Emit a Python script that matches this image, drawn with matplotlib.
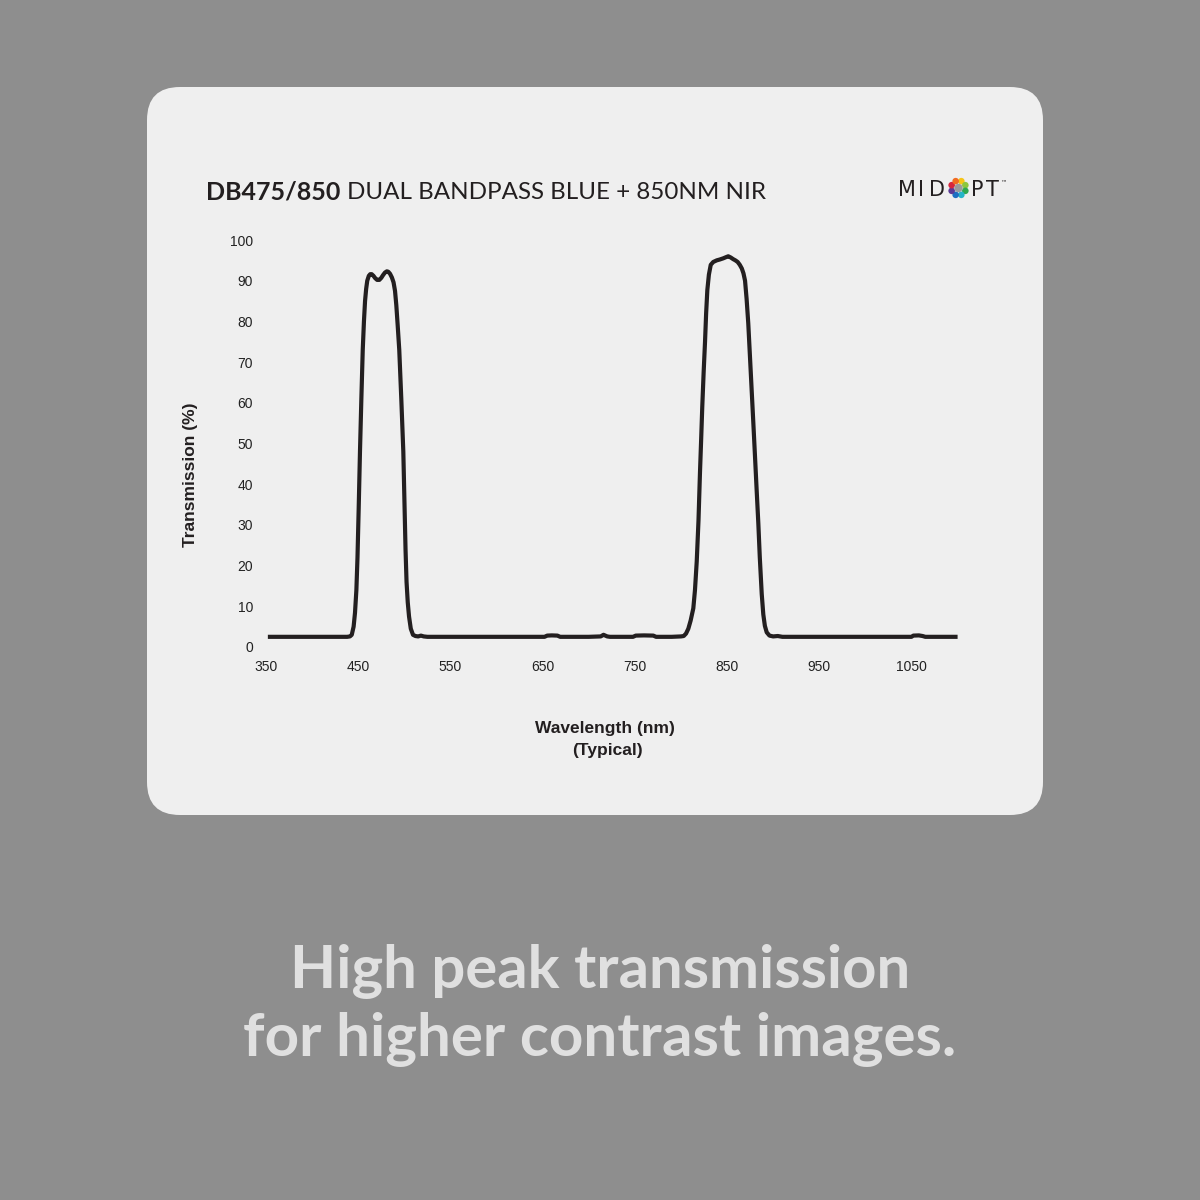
import matplotlib
matplotlib.use("Agg")
import matplotlib.pyplot as plt
from matplotlib.patches import FancyBboxPatch, Circle
import numpy as np

# ---------------- data ----------------
wavelength_nm = [
    352, 430, 438, 441, 443, 445, 446.5, 448, 449.2, 450.5,
    451.9, 453.4, 454.9, 456.2, 457.4, 458.6, 459.8, 461.5, 463, 464.6,
    466.5, 468.5, 470.5, 472.9, 475, 477, 479, 481, 482.6, 484.5,
    486.5, 488.3, 489.9, 491.3, 492.8, 494.5, 496.7, 498.9, 500.2, 501.3,
    502.4, 503.7, 505.1, 507, 509.4, 512, 515, 518, 521, 525,
    600, 652, 655, 660, 666, 669, 700, 713, 716, 718,
    720, 723, 748, 751, 760, 770, 773, 790, 800, 803,
    805.5, 808, 810.5, 813.4, 815.2, 817.1, 819, 820.6, 821.9, 823.1,
    824.6, 826.1, 827.3, 828.6, 830.3, 832.3, 835, 838.8, 842, 845.9,
    849, 851.3, 854, 856.6, 859, 861.5, 863.8, 866, 867.8, 869.5,
    871.2, 873, 874.8, 876.7, 878.5, 880.3, 882.1, 883.9, 885.5, 887.6,
    889.3, 891, 893, 896, 900, 905, 910, 1000, 1050, 1052,
    1058, 1062, 1065, 1100,
]
transmission_pct = [
    2.5, 2.5, 2.5, 2.6, 3.0, 5.0, 8.4, 14, 22, 34,
    48, 61, 73, 80, 85, 88, 90, 91.2, 91.6, 91.6,
    91.2, 90.6, 90.2, 90.2, 90.7, 91.4, 92.0, 92.3, 92.2, 91.7,
    90.8, 89.6, 87.5, 84, 79, 73, 61, 48, 35, 24,
    16, 11, 7.5, 4.5, 3.0, 2.7, 2.6, 2.8, 2.6, 2.5,
    2.5, 2.5, 2.8, 2.85, 2.8, 2.5, 2.5, 2.6, 3.0, 2.8,
    2.6, 2.5, 2.5, 2.8, 2.85, 2.8, 2.5, 2.5, 2.6, 2.7,
    3.3, 4.5, 6.5, 9.5, 14, 21, 31, 42.7, 51, 59,
    67.5, 75, 82, 87.7, 91.5, 93.9, 94.6, 95.0, 95.2, 95.5,
    95.8, 96.0, 95.7, 95.3, 95.0, 94.6, 93.9, 93.0, 91.8, 90.0,
    85.5, 79.5, 71.5, 63, 55, 46.8, 38.5, 30.4, 22, 13,
    8.0, 5.2, 3.6, 2.8, 2.6, 2.7, 2.5, 2.5, 2.5, 2.8,
    2.85, 2.7, 2.5, 2.5,
]
x_ticks = [350, 450, 550, 650, 750, 850, 950, 1050]
y_ticks = [0, 10, 20, 30, 40, 50, 60, 70, 80, 90, 100]
title_bold = "DB475/850"
title_rest = "DUAL BANDPASS BLUE + 850NM NIR"
y_label = "Transmission (%)"
x_label_lines = ["Wavelength (nm)", "(Typical)"]
caption_lines = ["High peak transmission", "for higher contrast images."]

# ---------------- layout ----------------
W = H = 1200
BG = "#8e8e8e"
CARD = "#efefef"
INK = "#231f20"

fig = plt.figure(figsize=(12, 12), dpi=100, facecolor=BG)
bg = fig.add_axes([0, 0, 1, 1])
bg.set_xlim(0, W)
bg.set_ylim(H, 0)
bg.axis("off")
bg.patch.set_alpha(0)

card = FancyBboxPatch((147, 87), 896, 728,
                      boxstyle="round,pad=0,rounding_size=33",
                      fc=CARD, ec="none")
bg.add_patch(card)

# data axes, pixel mapping
def x_px(wl):
    return 588.75 + (wl - 700) * 0.9221

left, right = x_px(350), x_px(1100)
top, bottom = 240, 647
ax = fig.add_axes([left / W, 1 - bottom / H, (right - left) / W, (bottom - top) / H])
ax.set_xlim(350, 1100)
ax.set_ylim(0, 100)
ax.patch.set_alpha(0)
for s in ax.spines.values():
    s.set_visible(False)
ax.plot(wavelength_nm, transmission_pct, color=INK, lw=3.0,
        solid_joinstyle="round", solid_capstyle="butt", clip_on=False)
ax.set_xticks(x_ticks)
ax.set_yticks(y_ticks)
ax.set_xticklabels([str(v) for v in x_ticks])
ax.set_yticklabels([str(v) for v in y_ticks])
ax.tick_params(axis="both", length=0, labelsize=10, colors="#222222")
ax.tick_params(axis="x", pad=9.5)
ax.tick_params(axis="y", pad=9.4)
for lab in ax.get_xticklabels() + ax.get_yticklabels():
    lab.set_family("Liberation Sans")

# axis labels
bg.text(190, 475, y_label, rotation=90, ha="center", va="center",
        fontsize=12.5, fontweight="bold", family="Liberation Sans", color=INK)
bg.text(605, 729, x_label_lines[0], ha="center", va="center",
        fontsize=12.5, fontweight="bold", family="Liberation Sans", color=INK)
bg.text(607, 751, x_label_lines[1], ha="center", va="center",
        fontsize=12.5, fontweight="bold", family="Liberation Sans", color=INK)

renderer = fig.canvas.get_renderer()

def fit(t, target_w):
    w = t.get_window_extent(renderer).width
    t.set_fontsize(t.get_fontsize() * target_w / w)

# title
t1 = bg.text(206, 199, title_bold, fontsize=20, fontweight="bold",
             family="Lato", va="baseline", ha="left", color=INK)
fit(t1, 134)
t2 = bg.text(347, 199, title_rest, fontsize=20, fontweight="normal",
             family="Lato", va="baseline", ha="left", color=INK)
fit(t2, 416)

# logo
logo_font = dict(family="DejaVu Sans", fontsize=15, color="#231f20",
                 va="baseline", ha="center")
for ch, cx in [("M", 906.5), ("I", 921.0), ("D", 937.0), ("P", 977.5), ("T", 992.0)]:
    bg.text(cx, 195.5, ch, **logo_font)
bg.text(1003.5, 183, "\u2122", family="DejaVu Sans", fontsize=4.5,
        color="#231f20", ha="center", va="center")
flower_colors = ["#f6c417", "#8cc63f", "#2fa84f", "#25b4c8",
                 "#1d6fc2", "#5b3a96", "#d7263d", "#f26b21"]
fc_x, fc_y = 958.5, 188
for i, c in enumerate(flower_colors):
    ang = np.pi / 2 - i * 2 * np.pi / len(flower_colors) - np.pi / 8
    bg.add_patch(Circle((fc_x + 7.4 * np.cos(ang), fc_y - 7.4 * np.sin(ang)),
                        3.3, fc=c, ec="none"))
bg.add_patch(Circle((fc_x, fc_y), 4.2, fc="#9b9b9b", ec="none"))

# caption
cap_color = "#e0e0e0"
c1 = bg.text(600, 988, caption_lines[0], fontsize=40, fontweight="bold",
             family="Lato", ha="center", va="baseline", color=cap_color)
fit(c1, 620)
c2 = bg.text(600, 1056, caption_lines[1], fontsize=40, fontweight="bold",
             family="Lato", ha="center", va="baseline", color=cap_color)
fit(c2, 714)

fig.savefig("out.png", dpi=100, facecolor=BG)
